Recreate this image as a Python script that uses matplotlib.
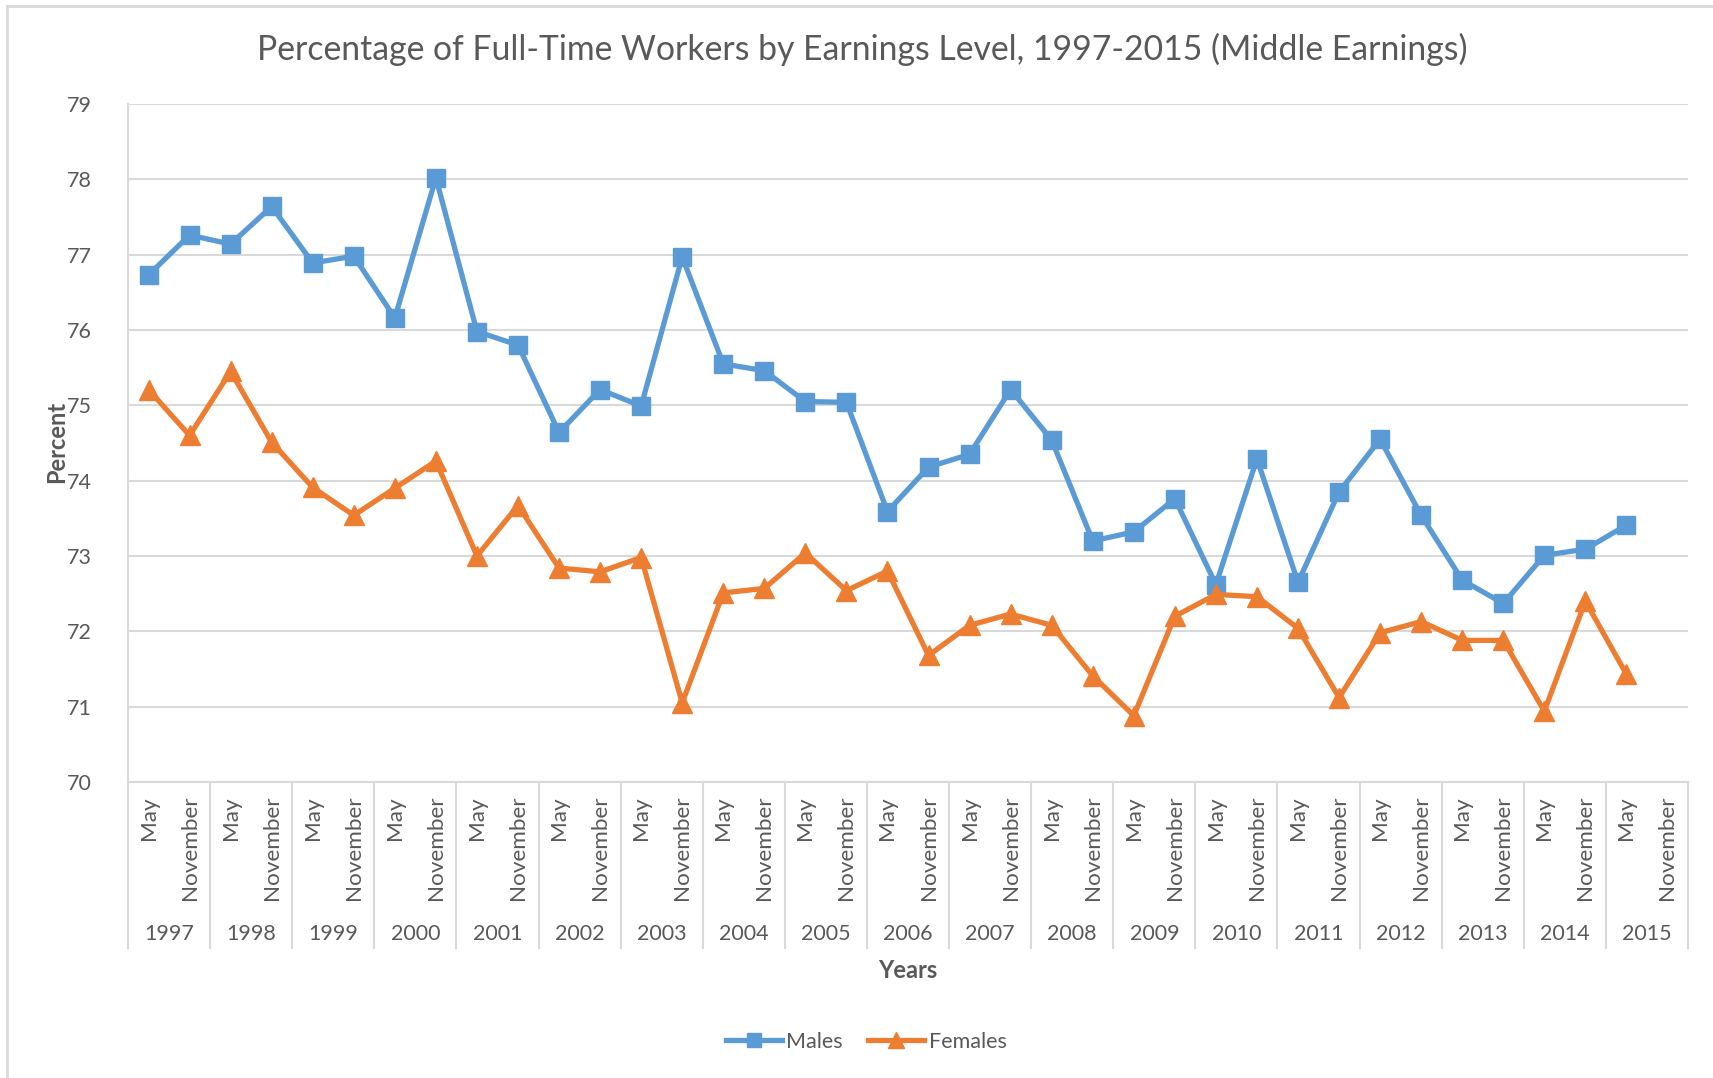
import matplotlib.pyplot as plt
from matplotlib.lines import Line2D
import numpy as np

years = [str(y) for y in range(1997, 2016)]
months = ["May", "November"]

males = [76.73, 77.26, 77.14, 77.64, 76.89, 76.98, 76.16, 78.02, 75.98, 75.80,
         74.64, 75.21, 74.99, 76.97, 75.55, 75.46, 75.05, 75.04, 73.59, 74.18,
         74.35, 75.21, 74.54, 73.20, 73.32, 73.76, 72.62, 74.29, 72.65, 73.85,
         74.55, 73.54, 72.68, 72.37, 73.01, 73.09, 73.41]
females = [75.21, 74.60, 75.45, 74.51, 73.91, 73.54, 73.90, 74.26, 73.00, 73.67,
           72.84, 72.79, 72.98, 71.05, 72.51, 72.57, 73.04, 72.54, 72.80, 71.68,
           72.08, 72.23, 72.08, 71.41, 70.88, 72.20, 72.49, 72.46, 72.04, 71.12,
           71.98, 72.13, 71.88, 71.88, 70.94, 72.40, 71.43]

blue = "#5B9BD5"
orange = "#ED7D31"
grey = "#595959"
grid = "#D9D9D9"
font = ["Lato", "DejaVu Sans"]
plt.rcParams['font.family'] = font

W, H = 1713, 1078
fig = plt.figure(figsize=(W / 100, H / 100), dpi=100)

# chart border (left and top visible)
fig.add_artist(Line2D([7 / W, 7 / W], [0, 1 - 6 / H], color=grid, lw=2))
fig.add_artist(Line2D([7 / W, 1], [1 - 6 / H, 1 - 6 / H], color=grid, lw=2))

left, right, top, bottom = 128, 1688, 104, 782
ax = fig.add_axes([left / W, 1 - bottom / H, (right - left) / W, (bottom - top) / H])

n_cat = len(years) * len(months)
x = np.arange(len(males))
ax.plot(x, males, color=blue, lw=3.8, marker="s", markersize=13,
        solid_joinstyle="round", zorder=3, label="Males")
ax.plot(x, females, color=orange, lw=3.8, marker="^", markersize=14,
        solid_joinstyle="round", zorder=3, label="Females")

ax.set_xlim(-0.5, n_cat - 0.5)
ax.set_ylim(70, 79)
ax.set_yticks(range(70, 80))
ax.yaxis.grid(True, color=grid, lw=1.5)
ax.set_axisbelow(True)
ax.tick_params(axis="y", length=0, labelsize=15.5, labelcolor=grey, pad=26)
ax.set_xticks([])
for s in ["top", "right"]:
    ax.spines[s].set_visible(False)
ax.spines["left"].set_color(grid)
ax.spines["left"].set_linewidth(1.5)
ax.spines["bottom"].set_color(grid)
ax.spines["bottom"].set_linewidth(1.5)

# multi-level category axis
axh = bottom - top
sep_bottom = -(948 - bottom) / axh
trans = ax.get_xaxis_transform()
for k in range(len(years) + 1):
    xs = -0.5 + 2 * k
    ax.plot([xs, xs], [0, sep_bottom], transform=trans, color=grid, lw=1.5,
            clip_on=False)
for i in range(n_cat):
    ax.text(i, -(796 - bottom) / axh, months[i % 2], transform=trans,
            rotation=90, ha="center", va="top", fontsize=16.2, color=grey)
for k, yr in enumerate(years):
    ax.text(2 * k + 0.5, -(934 - bottom) / axh, yr, transform=trans,
            ha="center", va="center", fontsize=15.5, color=grey)

ax.text(0.5, -(970 - bottom) / axh, "Years", transform=ax.transAxes,
        ha="center", va="center", fontsize=17, fontweight="bold", color=grey)
fig.text(57 / W, 1 - 442 / H, "Percent", rotation=90, ha="center",
         va="center", fontsize=17, fontweight="bold", color=grey)
fig.text(862 / W, 1 - 49 / H,
         "Percentage of Full-Time Workers by Earnings Level, 1997-2015 (Middle Earnings)",
         ha="center", va="center", fontsize=24.3, color=grey)

leg = fig.legend(loc="center", bbox_to_anchor=(866 / W, 1 - 1042 / H), ncol=2,
                 frameon=False, fontsize=15.5, handlelength=2.6,
                 handletextpad=0.2, columnspacing=1.2, markerscale=0.8)
for t in leg.get_texts():
    t.set_color(grey)

fig.savefig("out.png", dpi=100)
